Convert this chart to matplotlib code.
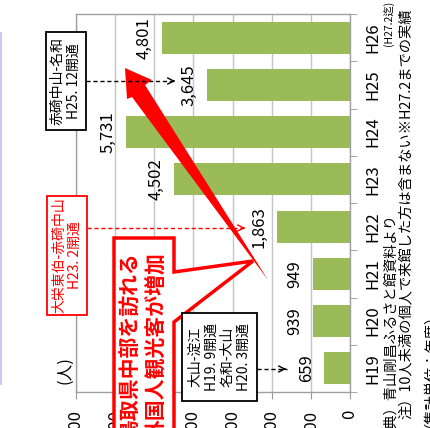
import matplotlib
matplotlib.use('Agg')
import matplotlib.pyplot as plt
from matplotlib.patches import Polygon, Rectangle

plt.rcParams['font.family'] = ['Noto Sans CJK JP', 'DejaVu Sans']

# 年度別の外国人来館者数（人）
years = ['H19', 'H20', 'H21', 'H22', 'H23', 'H24', 'H25', 'H26']
visitors = [659, 939, 949, 1863, 4502, 5731, 3645, 4801]
value_ticks = [0, 1000, 2000, 3000, 4000, 5000, 6000, 7000]

W, H = 430, 428
fig = plt.figure(figsize=(W / 100, H / 100), dpi=100)

# chart is laid on its side: years run bottom -> top, counts grow to the left
ax = fig.add_axes([76 / W, 1 - 392 / H, 274 / W, 378 / H])
pos = list(range(len(years)))
ax.barh(pos, visitors, height=0.68, color='#9BBB59', zorder=2)
ax.set_xlim(value_ticks[-1], 0)
ax.set_ylim(-0.5, len(years) - 0.5)

ax.set_xticks(value_ticks)
ax.set_xticklabels([f'{v:,}' for v in value_ticks], rotation=90, fontsize=12)
ax.grid(axis='x', color='#C4C4C4', lw=1, zorder=0)
ax.tick_params(axis='x', length=5, color='#999999', pad=8)

ax.yaxis.tick_right()
ax.set_yticks(pos)
ax.set_yticklabels(years, rotation=90, va='center', fontsize=12)
ax.set_yticks([i + 0.5 for i in range(-1, len(years))], minor=True)
ax.tick_params(axis='y', which='major', length=0, pad=10)
ax.tick_params(axis='y', which='minor', length=5, color='#999999')
for side in ax.spines.values():
    side.set_color('#A0A0A0')
    side.set_linewidth(1)

# value labels beyond the end of each bar
for i, v in enumerate(visitors):
    ax.annotate(f'{v:,}', (v, i), xytext=(-18, 0), textcoords='offset pixels',
                rotation=90, ha='center', va='center', fontsize=12)

ax.annotate('(H27.2迄)', (1, len(years) - 1), xycoords=('axes fraction', 'data'),
            xytext=(39, 14), textcoords='offset pixels',
            rotation=90, ha='center', va='center', fontsize=7.5)

# overlay in pixel units (origin top-left) for notes and callouts
ov = fig.add_axes([0, 0, 1, 1], zorder=5)
ov.set_xlim(0, W)
ov.set_ylim(H, 0)
ov.axis('off')
ov.patch.set_visible(False)

ov.add_patch(Rectangle((0, 32), 2, 353, color='#C8C8F0', lw=0))
ov.text(65, 370, '(人)', rotation=90, ha='center', va='center', fontsize=12)

# notes under the chart
ov.text(390, 213, '出典）青山剛昌ふるさと館資料より', rotation=90,
        ha='center', va='top', fontsize=10.3)
ov.text(406, 8, '注）10人未満の個人で来館した方は含まない※H27.2までの実績', rotation=90,
        ha='center', va='top', fontsize=10.3)
ov.text(423, 300, '（集計単位：年度）', rotation=90,
        ha='center', va='top', fontsize=10.3)

# big red growth arrow
ov.add_patch(Polygon([(125, 68), (152, 80), (145, 85), (268, 280), (132, 97), (127, 99)],
                     closed=True, color='#FF0000', lw=0))

# red callout box
ov.add_patch(Polygon([(114, 238), (174, 238), (174, 272), (253, 261), (174, 322),
                      (174, 445), (114, 445)], closed=True,
                     facecolor='white', edgecolor='#FF0000', lw=2.5))
ov.text(143.5, 252, '鳥取県中部を訪れる\n外国人観光客が増加', rotation=90,
        ha='center', va='top', fontsize=15, fontweight='bold', color='#FF0000',
        linespacing=1.3)


def dashed_arrow(x0, x1, y, color):
    ov.plot([x0, x1 - 2], [y, y], ls=(0, (3, 2)), color=color, lw=1)
    ov.annotate('', xy=(x1, y), xytext=(x1 - 8, y),
                arrowprops=dict(arrowstyle='->', color=color, lw=1, mutation_scale=11))


def road_box(x, y, w, h, lines, color):
    ov.add_patch(Rectangle((x, y), w, h, facecolor='white', edgecolor=color, lw=1.3))
    ov.text(x + w / 2, y + h / 2, '\n'.join(lines), rotation=90, ha='center', va='center',
            fontsize=10, color=color, linespacing=1.2)


dashed_arrow(86, 178, 81, 'black')
road_box(46, 32, 40, 98, ['赤碕中山-名和', 'H25. 12開通'], 'black')

dashed_arrow(87, 248, 228, '#FF0000')
road_box(47, 196, 40, 119, ['大栄東伯-赤碕中山', 'H23. 2開通'], '#FF0000')

dashed_arrow(257, 289, 369, 'black')
road_box(182, 313, 75, 88, ['大山-淀江', 'H19. 9開通', '名和-大山', 'H20. 3開通'], 'black')

fig.savefig('out.png', dpi=100)
